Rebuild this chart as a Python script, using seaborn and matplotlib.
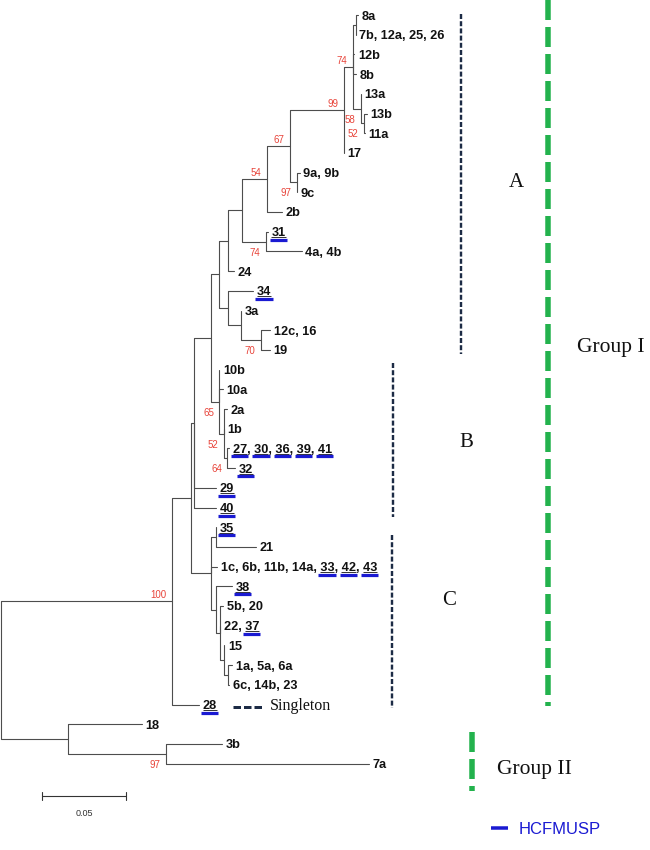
"""
Phylogenetic tree of the isolates (Group I clades A/B/C and Group II),
drawn as a rectangular cladogram with seaborn line plots.
"""

import matplotlib
matplotlib.use("Agg")
import matplotlib.pyplot as plt
from matplotlib.font_manager import FontProperties
import pandas as pd
import seaborn as sns

# internal nodes (parent listed before child), branch length in substitutions/site
node_names = ["root", "I", "N2", "N3", "M", "P", "R", "T", "U", "W", "X", "Z", "Z1", "Z2", "Z3",
              "Y", "V", "S", "S1", "S2", "Q", "Q1", "Q2", "C0", "C5", "C1", "C2", "C3", "C4", "O", "O2"]
node_parent = [None, "root", "I", "N2", "N3", "M", "P", "R", "T", "U", "W", "X", "Z", "Z", "Z2",
               "W", "T", "P", "S", "S1", "M", "Q", "Q1", "N2", "C0", "C0", "C1", "C2", "C3", "root", "O"]
node_length = [0, 0.1018, 0.0113, 0.0020, 0.0098, 0.0051, 0.0054, 0.0080, 0.0149, 0.0135, 0.0321,
               0.0054, 0.0020, 0.0050, 0.0015,
               0.0044, 0.0143, 0.0054, 0.0074, 0.0119, 0.0051, 0.0028, 0.0020, 0.0119, 0.0028,
               0.0028, 0.0026, 0.0026, 0.0024, 0.0399, 0.0583]
node_support = [None, 100, None, None, None, None, None, None, 54, 67, 99, 74, None, 58, 52,
                97, 74, None, None, 70, 65, 52, 64, None, None, None, None, None, None, None, 97]

# tips, top to bottom
tip_labels = ["8a", "7b, 12a, 25, 26", "12b", "8b", "13a", "13b", "11a", "17", "9a, 9b", "9c",
              "2b", "31", "4a, 4b", "24", "34", "3a", "12c, 16", "19", "10b", "10a",
              "2a", "1b", "27, 30, 36, 39, 41", "32", "29", "40", "35", "21",
              "1c, 6b, 11b, 14a, 33, 42, 43", "38", "5b, 20", "22, 37", "15", "1a, 5a, 6a",
              "6c, 14b, 23", "28", "18", "3b", "7a"]
tip_parent = ["Z1", "Z1", "Z", "Z", "Z2", "Z3", "Z3", "X", "Y", "Y",
              "U", "V", "V", "R", "S", "S1", "S2", "S2", "Q", "Q",
              "Q1", "Q1", "Q2", "Q2", "N3", "N3", "C5", "C5",
              "C0", "C1", "C2", "C2", "C3", "C4",
              "C4", "I", "O", "O2", "O2"]
tip_length = [0.0014, 0.0, 0.0010, 0.0020, 0.0, 0.0020, 0.0010, 0.0, 0.0017, 0.0,
              0.0089, 0.0012, 0.0214, 0.0030, 0.0147, 0.0, 0.0055, 0.0055, 0.0, 0.0020,
              0.0016, 0.0, 0.0010, 0.0046, 0.0129, 0.0129, 0.0, 0.0238,
              0.0036, 0.0097, 0.0018, 0.0, 0.0, 0.0022,
              0.0004, 0.0161, 0.0440, 0.0333, 0.1208]

# isolates from HCFMUSP (underlined in blue)
hcfmusp = [str(n) for n in range(27, 44)]

# clades (first tip, last tip) and groups
clade_names = ["A", "B", "C"]
clade_first = ["8a", "10b", "35"]
clade_last = ["19", "40", "28"]
group_names = ["Group I", "Group II"]
group_first = ["8a", "18"]
group_last = ["28", "7a"]
scale_value = 0.05

# ---------------------------------------------------------------- layout
W, H = 650, 850
PX = scale_value / 84.0   # substitutions per pixel
ROW = 19.7                # pixels per tip row
X0, Y0 = 1.0, 15.0        # root x / first tip y in pixels

TREE_COLOR = "#4d4d4d"
BLUE = "#1a1ad2"
RED = "#e8443a"
NAVY = "#1c2b45"
GREEN = "#23b24d"

sns.set_theme(style="white")
plt.rcParams["font.family"] = ["Liberation Sans", "DejaVu Sans"]

fig = plt.figure(figsize=(W / 100, H / 100), dpi=100)
ax = fig.add_axes([0, 0, 1, 1])


def dx(p):
    """pixels -> x data units (length)"""
    return p * PX


def dy(p):
    """pixels -> y data units (rows)"""
    return p / ROW


def fx(p):
    return (p - X0) * PX


def fy(p):
    return (p - Y0) / ROW


def dashed(on, off, lw):
    """dash pattern in pixels -> (linewidth pt, linestyle)"""
    return lw * 0.72, (0, (on / lw, off / lw))


# ---------------------------------------------------------------- tree positions
xpos = {"root": 0.0}
for n, p, l in zip(node_names[1:], node_parent[1:], node_length[1:]):
    xpos[n] = xpos[p] + l

tips = pd.DataFrame({"label": tip_labels, "parent": tip_parent, "length": tip_length})
tips["y"] = range(len(tips))
tips["x"] = tips["parent"].map(xpos) + tips["length"]

children = {n: [] for n in node_names}
for n, p in zip(node_names[1:], node_parent[1:]):
    children[p].append(("node", n))
for i, p in enumerate(tip_parent):
    children[p].append(("tip", i))

ypos = {}


def node_y(n):
    if n not in ypos:
        ys = [node_y(c) if k == "node" else float(c) for k, c in children[n]]
        ypos[n] = (min(ys) + max(ys)) / 2
    return ypos[n]


node_y("root")


def child_ys(n):
    return [ypos[c] if k == "node" else float(c) for k, c in children[n]]


# elbow segments: parent vertical -> horizontal branch
segs = []
for n, p in zip(node_names[1:], node_parent[1:]):
    for x, y in [(xpos[p], ypos[p]), (xpos[p], ypos[n]), (xpos[n], ypos[n])]:
        segs.append(("n_" + n, x, y))
for i, t in tips.iterrows():
    for x, y in [(xpos[t.parent], ypos[t.parent]), (xpos[t.parent], t.y), (t.x, t.y)]:
        segs.append(("t_%d" % i, x, y))
seg_df = pd.DataFrame(segs, columns=["branch", "x", "y"])

sns.lineplot(data=seg_df, x="x", y="y", units="branch", estimator=None, sort=False,
             color=TREE_COLOR, linewidth=0.8, ax=ax, legend=False)

ax.set_xlim(fx(0), fx(W))
ax.set_ylim(fy(H), fy(0))
ax.axis("off")

# ---------------------------------------------------------------- tip labels
renderer = fig.canvas.get_renderer()
label_fp = FontProperties(family="Liberation Sans", weight="bold", size=9.2)


def text_px(s):
    return renderer.get_text_width_height_descent(s, label_fp, ismath=False)[0]


for _, t in tips.iterrows():
    x0 = t.x + dx(3.5)
    ax.text(x0, t.y, t.label, fontproperties=label_fp, ha="left", va="center_baseline",
            color="#111111", zorder=4)
    parts = t.label.split(", ")
    for i, tok in enumerate(parts):
        if tok not in hcfmusp:
            continue
        end = text_px(", ".join(parts[:i + 1]))
        start = end - text_px(tok)
        ax.plot([x0 + dx(start), x0 + dx(end)], [t.y + dy(5.6)] * 2,
                color="#111111", lw=0.6, zorder=3, solid_capstyle="butt")
        ax.plot([x0 + dx(start - 1.5), x0 + dx(end + 1.5)], [t.y + dy(8.0)] * 2,
                color=BLUE, lw=3.2 * 0.72, zorder=3, solid_capstyle="butt")

# ---------------------------------------------------------------- bootstrap values
for n, p, sup in zip(node_names, node_parent, node_support):
    if sup is None:
        continue
    above = ypos[n] <= min(child_ys(p))
    off = -7 if above else 10
    ax.text(xpos[n] - dx(5.5), ypos[n] + dy(off), str(sup), ha="right", va="center_baseline",
            color=RED, fontsize=7, zorder=4)

# ---------------------------------------------------------------- clade / group bars
row_of = dict(zip(tip_labels, range(len(tip_labels))))
serif = ["Liberation Serif", "DejaVu Serif"]

clade_x = [461, 393, 392]
clade_pad = [(-0.05, 0.2), (-0.33, 0.5), (0.4, 0.2)]
clade_text = [(516, 180), (466, 440), (449, 598)]
for name, a, b, cx, pad, (tx, ty) in zip(clade_names, clade_first, clade_last,
                                         clade_x, clade_pad, clade_text):
    lw, ls = dashed(5.0, 2.2, 2.4)
    ax.plot([fx(cx)] * 2, [row_of[a] + pad[0], row_of[b] + pad[1]],
            color=NAVY, lw=lw, linestyle=ls)
    ax.text(fx(tx), fy(ty), name, family=serif, fontsize=15, ha="center",
            va="center_baseline", color="#111111")

group_x = [548, 472]
group_pad = [(-0.76, 0.1), (0.4, 1.4)]
group_text = [(577, 345), (497, 767)]
for name, a, b, gx, pad, (tx, ty) in zip(group_names, group_first, group_last,
                                         group_x, group_pad, group_text):
    lw, ls = dashed(20.0, 7.0, 5.5)
    ax.plot([fx(gx)] * 2, [row_of[a] + pad[0], row_of[b] + pad[1]],
            color=GREEN, lw=lw, linestyle=ls, solid_capstyle="butt")
    ax.text(fx(tx), fy(ty), name, family=serif, fontsize=15.5, ha="left",
            va="center_baseline", color="#111111")

# singleton marker next to tip 28
r28 = row_of["28"]
lw, ls = dashed(7.5, 3.0, 3.0)
ax.plot([fx(233), fx(262)], [r28 + dy(2)] * 2, color=NAVY, lw=lw, linestyle=ls)
ax.text(fx(270), r28, "Singleton", family=serif, fontsize=11.5, ha="left",
        va="center_baseline", color="#111111")

# ---------------------------------------------------------------- scale bar
sb_x, sb_y = fx(42), fy(796)
ax.plot([sb_x, sb_x + scale_value], [sb_y, sb_y], color="#333333", lw=0.8)
for xe in (sb_x, sb_x + scale_value):
    ax.plot([xe, xe], [sb_y - dy(3.5), sb_y + dy(3.5)], color="#333333", lw=0.8)
ax.text(sb_x + scale_value / 2, fy(812), "%.2f" % scale_value, ha="center",
        va="center_baseline", fontsize=6.5, color="#333333")

# ---------------------------------------------------------------- legend
ax.plot([fx(491), fx(508)], [fy(828)] * 2, color=BLUE, lw=3.5 * 0.72, solid_capstyle="butt")
ax.text(fx(519), fy(828), "HCFMUSP", ha="left", va="center_baseline", fontsize=12, color=BLUE)

fig.savefig("out.png", dpi=100, facecolor="white")
plt.close(fig)
